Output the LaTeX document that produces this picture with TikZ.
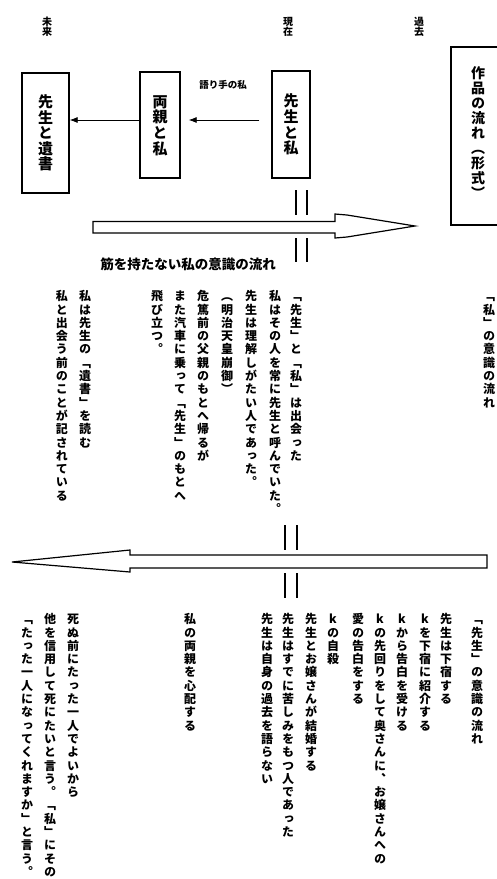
\documentclass[tikz,border=0pt]{standalone}
\usepackage{fontspec}
\usetikzlibrary{arrows.meta}
\newfontfamily\jpv[RawFeature=+vert]{Noto Sans CJK JP}
\newfontfamily\jph{Noto Sans CJK JP}
\ExplSyntaxOn
\NewDocumentCommand\vtext{m m m}{
  \vbox{
    \fontsize{#1pt}{#2pt}\jpv\bfseries\selectfont
    \baselineskip=#2pt\relax
    \lineskiplimit=-\maxdimen
    \tl_map_inline:nn {#3}{\hbox_to_wd:nn{1em}{\hss\smash{##1}\hss\rule[-0.12em]{0pt}{1em}}}
  }
}
\ExplSyntaxOff
\tikzset{
  box/.style={draw, line width=1.3pt, inner sep=0pt},
  vcol/.style={inner sep=0pt, anchor=north},
  conn/.style={-{Latex[length=8pt,width=6pt]}, line width=0.8pt},
  bigarrow/.style={draw, line width=1.2pt, fill=white, line join=miter},
  dbl/.style={line width=1.3pt},
  hlabel/.style={inner sep=0pt, font=\jph\bfseries},
}
\begin{document}
\begin{tikzpicture}[x=1pt, y=-1pt]
\useasboundingbox (0,0) rectangle (496,879);
\fill[white] (0,0) rectangle (496,879);

% time labels
\node[vcol] (mirai) at (47,16) {\vtext{10}{10.5}{未来}};
\node[vcol] (genzai) at (288,16) {\vtext{10}{10.5}{現在}};
\node[vcol] (kako) at (419,16) {\vtext{10}{10.5}{過去}};

% work-flow box
\draw[box] (497,47) -| (451,225) -- (497,225);
\node[vcol] (sakuhin) at (478,66) {\vtext{14}{15}{作品の流れ（形式）}};

% top boxes
\node[box, minimum width=47pt, minimum height=120pt] (iso) at (45.5,133) {\vtext{15}{15.6}{先生と遺書}};
\node[box, minimum width=40pt, minimum height=106pt] (ryo) at (160,125) {\vtext{15}{15.6}{両親と私}};
\node[box, minimum width=38pt, minimum height=107pt] (sw) at (291,124.5) {\vtext{15}{15.6}{先生と私}};

\draw[conn, shorten <=12pt, shorten >=8pt] ([yshift=4.5pt]sw.west) -- ([yshift=5pt]ryo.east);
\draw[conn] ([yshift=5pt]ryo.west) -- ([yshift=13pt]iso.east);
\node[hlabel, font=\jph\bfseries\fontsize{9.5pt}{10pt}\selectfont] (katari) at (223,85) {語り手の私};

% top double lines
\draw[dbl] (296,190) -- (296,215);
\draw[dbl] (307,190) -- (307,215);
\draw[dbl] (296,238) -- (296,262);
\draw[dbl] (307,238) -- (307,262);

% right-pointing big arrow
\draw[bigarrow] (93,221.5) -- (335,221.5) -- (335,214) -- (347,215) -- (415,226) -- (347,237) -- (335,238) -- (335,233) -- (93,233) -- cycle;
\node[hlabel, font=\jph\bfseries\fontsize{13.5pt}{14pt}\selectfont] (suji) at (188,264) {筋を持たない私の意識の流れ};

% present section columns
\node[vcol] (m1) at (296,290) {\vtext{12}{13.3}{「先生」と「私」は出会った}};
\node[vcol] (m2) at (275,290) {\vtext{12}{13.3}{私はその人を常に先生と呼んでいた。}};
\node[vcol] (m3) at (251,290) {\vtext{12}{13.3}{先生は理解しがたい人であった。}};
\node[vcol] (m4) at (227,290) {\vtext{12}{13.3}{（明治天皇崩御）}};
\node[vcol] (m5) at (203,290) {\vtext{12}{13.3}{危篤前の父親のもとへ帰るが}};
\node[vcol] (m6) at (180,290) {\vtext{12}{13.3}{また汽車に乗って「先生」のもとへ}};
\node[vcol] (m7) at (157,290) {\vtext{12}{13.3}{飛び立つ。}};
\node[vcol] (m8) at (85,290) {\vtext{12}{13.3}{私は先生の「遺書」を読む}};
\node[vcol] (m9) at (62,290) {\vtext{12}{13.3}{私と出会う前のことが記されている}};

\node[vcol] (watashi) at (489,290) {\vtext{12}{13.3}{「私」の意識の流れ}};

% middle double lines
\draw[dbl] (285,525) -- (285,550);
\draw[dbl] (297,525) -- (297,550);
\draw[dbl] (285,573) -- (285,598);
\draw[dbl] (297,573) -- (297,598);

% left-pointing big arrow
\draw[bigarrow] (487,555) -- (130,555) -- (130,550) -- (12,562) -- (130,572) -- (130,568) -- (487,568) -- cycle;

% bottom right columns
\node[vcol] (b1) at (477,613) {\vtext{12}{13.3}{「先生」の意識の流れ}};
\node[vcol] (b2) at (446,613) {\vtext{12}{13.3}{先生は下宿する}};
\node[vcol] (b3) at (425,613) {\vtext{12}{13.3}{kを下宿に紹介する}};
\node[vcol] (b4) at (402,613) {\vtext{12}{13.3}{kから告白を受ける}};
\node[vcol] (b5) at (380,613) {\vtext{12}{13.3}{kの先回りをして奥さんに、お嬢さんへの}};
\node[vcol] (b6) at (358,613) {\vtext{12}{13.3}{愛の告白をする}};
\node[vcol] (b7) at (333,613) {\vtext{12}{13.3}{kの自殺}};
\node[vcol] (b8) at (311,613) {\vtext{12}{13.3}{先生とお嬢さんが結婚する}};
\node[vcol] (b9) at (288,613) {\vtext{12}{13.3}{先生はすでに苦しみをもつ人であった}};
\node[vcol] (b10) at (267,613) {\vtext{12}{13.3}{先生は自身の過去を語らない}};

% bottom left columns
\node[vcol] (c1) at (190,613) {\vtext{12}{13.3}{私の両親を心配する}};
\node[vcol] (c2) at (73,613) {\vtext{12}{13.3}{死ぬ前にたった一人でよいから}};
\node[vcol] (c3) at (50,613) {\vtext{12}{13.3}{他を信用して死にたいと言う。「私」にその}};
\node[vcol] (c4) at (27,613) {\vtext{12}{13.3}{「たった一人になってくれますか」と言う。}};
\end{tikzpicture}
\end{document}
